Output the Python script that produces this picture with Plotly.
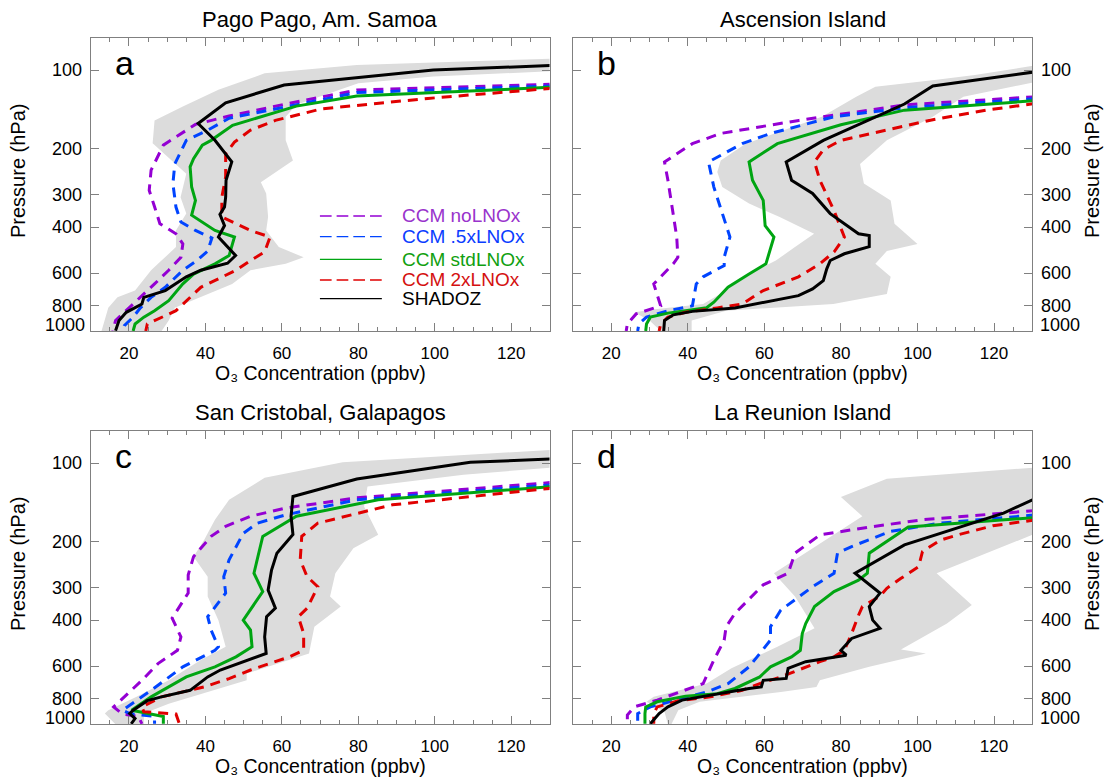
import math
import plotly.graph_objects as go

# ---------------------------------------------------------------------------
# Tropical ozone profiles: pressure (hPa) and O3 (ppbv) for every curve.
# "band" = range of the SHADOZ sonde observations (low and high edges).
# ---------------------------------------------------------------------------

# a) Pago Pago, Am. Samoa
a_band_lo_p = [90, 95.7, 103, 119, 138, 156, 191, 250, 307, 355, 412, 477, 553, 585, 700, 743, 815, 1003]
a_band_lo = [135, 79.6, 55.5, 43.4, 34.1, 26.7, 26.2, 35.0, 33.5, 35.0, 32.3, 32.3, 27.6, 25.8, 21.6, 17.0, 14.6, 12.8]
a_band_hi_p = [101, 106, 112.5, 136, 151, 186, 222, 269, 297, 366, 412, 477, 522, 553, 585, 660, 815, 912, 1003]
a_band_hi = [131, 99.6, 80, 63.8, 61, 61, 62.9, 54.5, 55.9, 56.4, 55.9, 59.2, 65.7, 61, 51.8, 47, 32, 30.4, 28.5]
a_shadoz_p = [96, 100, 114.2, 133.5, 160.3, 185.8, 225, 264.5, 306.6, 335, 357.5, 394.5, 436.5, 514, 550, 585, 620, 700, 743, 788, 848, 912, 997]
a_shadoz = [131, 99.6, 60.6, 45.3, 38.1, 42.5, 46.9, 45.4, 45.3, 45.0, 43.8, 45.0, 43.4, 47.9, 45.8, 38.8, 35.0, 29.5, 23.9, 23.4, 19.3, 17.4, 16.5]
a_no_p = [113.3, 119.4, 135, 150, 161.6, 194, 242, 289, 334, 388, 424, 464, 522, 585, 660, 743, 836, 912, 1000]
a_no = [131, 79.6, 61.0, 46.2, 37.4, 29.0, 25.8, 25.3, 26.7, 28.1, 32.3, 34.1, 33.6, 30.4, 26.7, 23.0, 19.3, 16.5, 15.8]
a_half_p = [115, 122, 138.5, 153, 170, 186, 229, 272.5, 335, 382.5, 412, 440, 494, 537, 585, 680, 743, 815, 885, 954, 1000]
a_half = [131, 79.6, 61.0, 46.2, 40.6, 35.0, 32.0, 31.5, 32.3, 33.6, 37.4, 41.7, 40.6, 37.8, 34.1, 29.5, 25.8, 23.0, 21.1, 18.8, 18.3]
a_std_p = [116.4, 125.8, 137.5, 163, 186, 194, 218.5, 235, 280.6, 316, 360, 412, 436.5, 514, 553, 605, 660, 765, 836, 885, 940, 1000]
a_std = [131, 79.6, 63.8, 47.1, 41.5, 39.2, 36.9, 36.0, 36.4, 37.4, 36.4, 42.5, 47.6, 46.2, 42.5, 36.9, 34.1, 30.4, 26.7, 23.9, 21.6, 21.1]
a_2x_p = [117.4, 128.5, 141, 156, 170, 189, 209, 257, 307, 366, 412, 436.5, 498, 537, 585, 680, 836, 897, 940, 1000]
a_2x = [131, 98.2, 70.3, 58.3, 51.8, 47.6, 45.3, 45.3, 44.3, 44.3, 51.8, 56.9, 55.5, 51.8, 48.0, 38.8, 32.3, 27.6, 24.8, 24.4]

# b) Ascension Island
b_band_lo_p = [96, 104.5, 109, 116, 126.6, 151, 170, 192, 222, 246, 281, 325, 366, 424, 477, 537, 605, 700, 788, 823, 848, 912, 1003]
b_band_lo = [131, 115, 105, 89, 84, 75, 65, 55, 48.6, 47.7, 49, 56, 64, 73, 68, 63, 56, 50, 44, 32, 26, 30, 33]
b_band_hi_p = [111, 126.6, 151, 186, 229, 272, 316, 388, 464, 494, 553, 620, 721, 788, 836, 912, 1003]
b_band_hi = [131, 112, 104, 92, 85, 86, 93, 94, 100, 92, 89, 93, 92, 78, 50, 41, 41]
b_shadoz_p = [101.5, 115.2, 135, 153, 186, 225, 264.5, 297, 355, 424, 431, 475, 506, 537, 578, 641, 690, 732, 776, 816, 841, 867, 912, 1000]
b_shadoz = [131, 104, 96.6, 88.3, 75.4, 65.7, 67.1, 72.6, 77.2, 84.6, 87.4, 87.4, 80.9, 77.2, 76.3, 75.4, 72.6, 68.9, 59.7, 52.3, 41.2, 36.2, 33.9, 33.7]
b_no_p = [126.6, 136, 156, 175, 191.5, 215, 225, 264.5, 325, 436.5, 522, 553, 660, 801, 860, 940, 1000]
b_no = [131, 96.6, 69.0, 48.6, 41.2, 35.7, 33.9, 34.8, 35.7, 37.1, 37.4, 36.2, 31.1, 32.9, 26.5, 24.2, 23.9]
b_half_p = [128.7, 139.5, 151, 175, 191.5, 215, 225, 281, 325, 436.5, 522, 561, 620, 660, 801, 836, 885, 940, 1000]
b_half = [131, 96.6, 78.2, 61.6, 54.2, 47.7, 45.4, 46.8, 48.2, 51.0, 49.5, 49.5, 44.0, 42.2, 41.2, 34.8, 29.2, 27.2, 26.9]
b_std_p = [131, 142.5, 162, 191.5, 225, 264.5, 316, 394.5, 436.5, 537, 553, 605, 680, 776, 815, 854, 885, 940, 1000]
b_std = [131, 96.6, 80.0, 63.4, 56.0, 56.9, 59.7, 60.2, 62.5, 60.6, 60.4, 56.0, 50.5, 46.8, 44.9, 34.8, 30.2, 29.2, 29.0]
b_2x_p = [134.3, 142.5, 155, 170, 186, 202, 225, 264.5, 346, 436.5, 498, 553, 620, 700, 788, 816, 848, 885, 940, 1000]
b_2x = [131, 117.9, 104.0, 92.0, 80.0, 75.4, 73.1, 74.5, 78.2, 80.9, 78.2, 74.5, 68.9, 59.7, 54.2, 47.7, 39.4, 34.8, 32.9, 32.5]

# c) San Cristobal, Galapagos
c_band_lo_p = [89, 99.4, 114, 138.3, 165, 197, 228.5, 272.5, 325, 400, 506, 569, 680, 787, 886, 912, 1003]
c_band_lo = [131, 75.9, 55.5, 46.2, 42.5, 39.7, 36.9, 40.6, 40.6, 43.4, 45.3, 38.8, 30.4, 22.0, 14.6, 13.7, 16.5]
c_band_hi_p = [104, 110.9, 122.9, 146.8, 188.3, 212, 264.5, 325, 355, 424, 537, 641, 680, 836, 912, 1003]
c_band_hi = [131, 107.5, 82.4, 81.5, 85.2, 78.7, 74.0, 72.6, 75.4, 68.5, 67.1, 50.8, 50.8, 30.4, 23.9, 23.9]
c_shadoz_p = [96.5, 99.4, 115.2, 134.3, 160, 188, 221.5, 257, 307, 360, 388, 464, 537, 621, 660, 743, 787, 814, 886, 912, 953, 998]
c_shadoz = [131, 109.3, 79.6, 62.9, 62.4, 62.9, 58.7, 57.3, 56.4, 58.3, 56.0, 55.5, 55.9, 43.9, 40.6, 36.0, 28.5, 24.8, 21.1, 20.2, 21.6, 20.6]
c_no_p = [118.6, 136, 148.8, 160, 174.8, 191, 228.5, 268.7, 315, 393, 464, 522, 587, 680, 765, 860, 916, 936, 998]
c_no = [131, 79.6, 61.0, 51.8, 45.3, 41.5, 36.9, 35.5, 35.5, 31.3, 33.6, 32.7, 27.6, 23.4, 19.7, 16.0, 18.3, 22.5, 23.4]
c_half_p = [121.1, 138.3, 158, 170, 186, 235, 272.5, 315, 388, 437, 506, 522, 604, 743, 886, 912, 936, 998]
c_half = [131, 79.6, 61.0, 53.6, 49.9, 46.2, 44.8, 45.3, 40.6, 41.5, 43.4, 42.5, 34.1, 25.8, 18.3, 20.2, 26.7, 26.7]
c_std_p = [123, 138.3, 160, 191, 264.5, 311, 400, 437, 506, 553, 604, 660, 787, 886, 936, 998]
c_std = [131, 85.2, 63.8, 55.0, 52.7, 55.0, 49.9, 51.8, 52.2, 48.0, 42.5, 35.0, 25.8, 20.7, 29.0, 29.0]
c_2x_p = [124.7, 144.6, 170, 191, 235, 272.5, 298, 360, 388, 450, 522, 553, 621, 670, 721, 787, 860, 898, 916, 998]
c_2x = [131, 88.9, 69.4, 65.2, 64.8, 66.6, 69.4, 66.6, 64.3, 65.7, 65.7, 62.0, 51.8, 46.2, 39.7, 28.5, 23.4, 23.9, 32.3, 33.2]

# d) La Reunion Island
d_band_lo_p = [104, 114.9, 135, 160, 264.5, 325, 430, 506, 612, 700, 787, 822, 898, 1003]
d_band_lo = [131, 92, 80, 85.6, 62.5, 68, 73.1, 63.4, 51.4, 44.9, 31.1, 29.2, 33.9, 34.8]
d_band_hi_p = [104, 186, 264.5, 350, 412, 518, 537, 604, 680, 721, 754, 822, 886, 1003]
d_band_hi = [131, 131, 105, 114.2, 107.7, 95.7, 102.2, 87.4, 74.5, 73.6, 64.3, 43.1, 37.5, 35.7]
d_shadoz_p = [136.3, 155.6, 206, 264.5, 315, 355, 400, 430, 470, 522, 545, 577, 612, 669, 680, 721, 731, 765, 810, 860, 912, 998]
d_shadoz = [131, 122.5, 96.6, 83.7, 90.2, 87.4, 88.3, 90.2, 82.8, 80.0, 81.4, 70.8, 66.2, 65.7, 59.7, 59.2, 56.0, 48.6, 38.5, 34.8, 32.5, 30.2]
d_no_p = [152, 165, 176, 188.6, 221.5, 264.5, 293, 377, 424, 477, 569, 700, 810, 860, 924, 998]
d_no = [131, 101.3, 87.4, 74.5, 68.0, 66.2, 59.7, 52.3, 50.0, 49.5, 46.8, 44.0, 32.0, 26.0, 24.2, 24.2]
d_half_p = [158, 170, 183, 209, 221.5, 264.5, 298, 366, 424, 477, 537, 604, 700, 754, 860, 912, 998]
d_half = [131, 105.9, 92.9, 82.8, 79.1, 78.2, 72.6, 64.3, 61.6, 61.6, 58.8, 56.0, 50.5, 44.9, 30.2, 26.9, 26.9]
d_std_p = [161.6, 165, 176, 221.5, 264.5, 281, 311, 355, 412, 450, 522, 553, 604, 660, 731, 765, 782, 822, 860, 912, 998]
d_std = [131, 122.5, 97.6, 87.4, 86.9, 84.6, 78.2, 73.1, 70.8, 69.9, 69.4, 67.1, 61.6, 58.8, 52.3, 47.7, 39.4, 32.0, 29.0, 28.8, 28.8]
d_2x_p = [165, 174, 188.6, 197.6, 218.5, 249.5, 276.6, 302, 324, 355, 383, 450, 522, 553, 577, 621, 660, 700, 743, 787, 815, 860, 912, 998]
d_2x = [131, 119.7, 110.5, 105.9, 101.3, 100.3, 95.7, 92.0, 90.2, 85.6, 84.6, 82.8, 80.9, 78.2, 74.5, 68.9, 64.3, 58.8, 54.2, 45.9, 37.5, 32.0, 31.1, 31.1]

# Axis ticks and labels
x_ticks = [20, 40, 60, 80, 100, 120]
p_ticks = [100, 200, 300, 400, 600, 800]
p_bottom = 1000
station_names = ["Pago Pago, Am. Samoa", "Ascension Island",
                 "San Cristobal, Galapagos", "La Reunion Island"]
panel_letters = ["a", "b", "c", "d"]
series_names = ["CCM noLNOx", "CCM .5xLNOx", "CCM stdLNOx", "CCM 2xLNOx", "SHADOZ"]
x_title = "O\u2083 Concentration (ppbv)"

# ---------------------------------------------------------------------------
PURPLE = "#9400D3"
BLUE = "#0044FF"
GREEN = "#00A512"
RED = "#E00000"
BLACK = "#000000"
BAND = "#DCDCDC"
FRAME = "#808080"
FONT = "Liberation Sans, Arial, Helvetica, sans-serif"

series_colors = [PURPLE, BLUE, GREEN, RED, BLACK]
series_dashed = [True, True, False, True, False]
text_colors = ["#9933CC", "#0A3CFF", "#10A010", "#D41010", "#000000"]

FIG_W, FIG_H = 1105, 778
X_DOM = [[90.7 / FIG_W, 549.5 / FIG_W], [573.0 / FIG_W, 1032.3 / FIG_W]]
Y_DOM = [[1 - 331.0 / FIG_H, 1 - 38.0 / FIG_H], [1 - 724.0 / FIG_H, 1 - 431.0 / FIG_H]]

panels = [
    dict(band=(a_band_lo_p, a_band_lo, a_band_hi_p, a_band_hi),
         curves=[(a_no_p, a_no), (a_half_p, a_half), (a_std_p, a_std), (a_2x_p, a_2x), (a_shadoz_p, a_shadoz)]),
    dict(band=(b_band_lo_p, b_band_lo, b_band_hi_p, b_band_hi),
         curves=[(b_no_p, b_no), (b_half_p, b_half), (b_std_p, b_std), (b_2x_p, b_2x), (b_shadoz_p, b_shadoz)]),
    dict(band=(c_band_lo_p, c_band_lo, c_band_hi_p, c_band_hi),
         curves=[(c_no_p, c_no), (c_half_p, c_half), (c_std_p, c_std), (c_2x_p, c_2x), (c_shadoz_p, c_shadoz)]),
    dict(band=(d_band_lo_p, d_band_lo, d_band_hi_p, d_band_hi),
         curves=[(d_no_p, d_no), (d_half_p, d_half), (d_std_p, d_std), (d_2x_p, d_2x), (d_shadoz_p, d_shadoz)]),
]

fig = go.Figure()
annotations = []
shapes = []
layout_axes = {}

Y_RANGE = [math.log10(p_bottom), math.log10(75.4)]

for i, panel in enumerate(panels):
    col, row = i % 2, i // 2
    sfx = "" if i == 0 else str(i + 1)
    xa, ya = "x" + sfx, "y" + sfx
    side = "left" if col == 0 else "right"

    lo_p, lo, hi_p, hi = panel["band"]
    fig.add_trace(go.Scatter(
        x=lo + hi[::-1], y=lo_p + hi_p[::-1], mode="lines", fill="toself",
        fillcolor=BAND, line=dict(width=0, color=BAND), hoverinfo="skip",
        showlegend=False, xaxis=xa, yaxis=ya))

    for (p, o3), color, dashed in zip(panel["curves"], series_colors, series_dashed):
        fig.add_trace(go.Scatter(
            x=o3, y=p, mode="lines",
            line=dict(color=color, width=3, dash="10px,7px" if dashed else "solid"),
            hoverinfo="skip", showlegend=False, xaxis=xa, yaxis=ya))

    layout_axes["xaxis" + sfx] = dict(
        domain=X_DOM[col], anchor=ya, range=[10, 130],
        tickmode="array", tickvals=x_ticks, ticks="inside", ticklen=8,
        tickwidth=1, tickcolor=FRAME, showline=True, linecolor=FRAME,
        linewidth=1, mirror="ticks", showgrid=False, zeroline=False,
        tickfont=dict(family=FONT, size=17, color="black"),
        ticklabelstandoff=7,
        minor=dict(ticks="inside", ticklen=4, tickcolor=FRAME, tickwidth=1,
                   tickmode="linear", tick0=0, dtick=5, showgrid=False))
    layout_axes["yaxis" + sfx] = dict(
        domain=Y_DOM[row], anchor=xa, type="log", range=Y_RANGE, side=side,
        tickmode="array", tickvals=p_ticks,
        ticks="inside", ticklen=8, tickwidth=1, tickcolor=FRAME,
        showline=True, linecolor=FRAME, linewidth=1, mirror="ticks",
        showgrid=False, zeroline=False,
        tickfont=dict(family=FONT, size=18, color="black"),
        ticklabelstandoff=4)

    x0, x1 = X_DOM[col]
    y0, y1 = Y_DOM[row]
    xc = (x0 + x1) / 2
    top_px = (1 - y1) * FIG_H
    bot_px = (1 - y0) * FIG_H

    # station name above the panel
    annotations.append(dict(
        text=station_names[i], xref="paper", yref="paper", x=xc,
        y=1 - (top_px - 19) / FIG_H, xanchor="center", yanchor="middle",
        showarrow=False, font=dict(family=FONT, size=22, color="black")))
    # panel letter
    annotations.append(dict(
        text=panel_letters[i], xref=xa + " domain", yref=ya + " domain",
        x=0.048, y=1 - 25.0 / 293, xanchor="left", yanchor="middle",
        showarrow=False, font=dict(family=FONT, size=34, color="black")))
    # x axis title
    annotations.append(dict(
        text=x_title, xref="paper", yref="paper", borderpad=0,
        x=xc, y=1 - (bot_px + 42) / FIG_H, xanchor="center", yanchor="middle",
        showarrow=False, font=dict(family=FONT, size=19.5, color="black")))
    # y axis title
    annotations.append(dict(
        text="Pressure (hPa)", xref="paper", yref="paper",
        x=(18 if col == 0 else 1092) / FIG_W,
        y=1 - (top_px + 133) / FIG_H, xanchor="center", yanchor="middle",
        textangle=-90, showarrow=False,
        font=dict(family=FONT, size=20, color="black")))
    # bottom pressure label, lifted to sit beside the frame corner
    annotations.append(dict(
        text=str(p_bottom), xref=xa + " domain", yref=ya, x=0 if col == 0 else 1,
        y=math.log10(p_bottom), xanchor="right" if col == 0 else "left",
        yanchor="middle", xshift=-4 if col == 0 else 6, yshift=6,
        showarrow=False, font=dict(family=FONT, size=18, color="black")))

# legend drawn inside panel a
leg_x0, leg_x1, leg_tx = 0.4996, 0.6346, 0.674
leg_rows = [0.3925, 0.3218, 0.2447, 0.1741, 0.1103]
for name, color, tcol, dashed, ly in zip(series_names, series_colors, text_colors,
                                          series_dashed, leg_rows):
    shapes.append(dict(
        type="line", xref="x domain", yref="y domain", x0=leg_x0, x1=leg_x1,
        y0=ly, y1=ly, line=dict(color=color, width=1.3,
                                dash="11.7px,5px" if dashed else "solid")))
    annotations.append(dict(
        text=name, xref="x domain", yref="y domain", x=leg_tx, y=ly,
        xanchor="left", yanchor="middle", showarrow=False,
        font=dict(family=FONT, size=19, color=tcol)))

fig.update_layout(
    width=FIG_W, height=FIG_H, autosize=False,
    margin=dict(l=0, r=0, t=0, b=0),
    paper_bgcolor="white", plot_bgcolor="white",
    showlegend=False, annotations=annotations, shapes=shapes,
    font=dict(family=FONT, color="black"),
    **layout_axes)

fig.write_html("out.html")
